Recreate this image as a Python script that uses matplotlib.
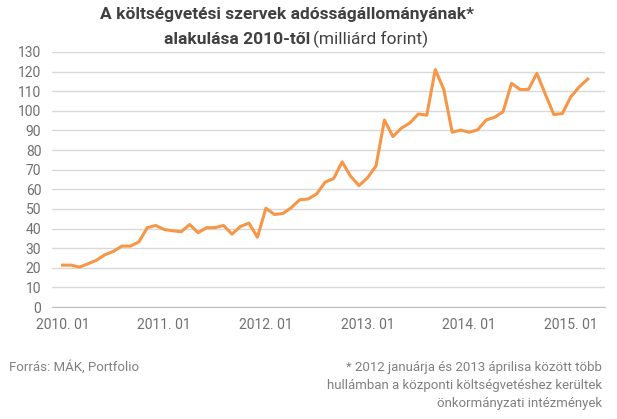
import matplotlib.pyplot as plt

plt.rcParams["font.family"] = "Roboto"

# monthly values, 2010.01 - 2015.03 (milliárd forint)
values = [
    21.4, 21.4, 20.4, 22.1, 23.9, 26.7, 28.4, 31.1, 31.1, 33.2, 40.5, 41.6,
    39.5, 38.9, 38.4, 42.1, 37.9, 40.5, 40.5, 41.6, 37.2, 41.1, 42.8, 35.6,
    50.4, 47.2, 47.7, 50.7, 54.7, 55.1, 57.7, 63.7, 65.5, 74.0, 66.7, 61.9,
    65.9, 71.9, 95.3, 86.9, 91.2, 93.8, 98.4, 97.8, 121.0, 111.0, 89.1, 90.2,
    89.1, 90.3, 95.3, 96.7, 99.5, 114.0, 110.9, 110.9, 119.1, 108.4, 98.1, 98.6,
    107.1, 112.2, 116.2,
]
tick_pos = [0, 12, 24, 36, 48, 60]
tick_labels = ["2010. 01", "2011. 01", "2012. 01", "2013. 01", "2014. 01", "2015. 01"]

fig = plt.figure(figsize=(6.17, 4.19), dpi=100)
ax = fig.add_axes([0.085, 0.267, 0.895, 0.609])
ax.plot(range(len(values)), values, color="#f79646", linewidth=2.2, solid_joinstyle="round")

ax.set_ylim(0, 130)
ax.set_yticks(range(0, 131, 10))
ax.set_xlim(-1.2, 64)
ax.set_xticks(tick_pos)
ax.set_xticklabels(tick_labels)
ax.tick_params(length=0, labelsize=10, colors="#6f6f6f", pad=8)
ax.grid(axis="y", color="#d9d9d9", linewidth=1)
ax.set_axisbelow(True)
for s in ["top", "right", "left"]:
    ax.spines[s].set_visible(False)
ax.spines["bottom"].set_color("#bfbfbf")

fig.text(0.465, 0.965, "A költségvetési szervek adósságállományának*",
         ha="center", va="center", fontsize=12.5, fontweight="bold", color="#404040")
fig.text(0.503, 0.905, r"alakulása 2010-től", ha="right", va="center",
         fontsize=12.5, fontweight="bold", color="#404040")
fig.text(0.508, 0.905, "(milliárd forint)", ha="left", va="center",
         fontsize=12.5, color="#404040")

fig.text(0.015, 0.124, "Forrás: MÁK, Portfolio", fontsize=9.5, color="#7f7f7f", va="center")
fig.text(0.975, 0.124, "* 2012 januárja és 2013 áprilisa között több",
         fontsize=9.5, color="#7f7f7f", ha="right", va="center")
fig.text(0.975, 0.081, "hullámban a központi költségvetéshez kerültek",
         fontsize=9.5, color="#7f7f7f", ha="right", va="center")
fig.text(0.975, 0.038, "önkormányzati intézmények",
         fontsize=9.5, color="#7f7f7f", ha="right", va="center")

fig.savefig("out.png", dpi=100, facecolor="white")
